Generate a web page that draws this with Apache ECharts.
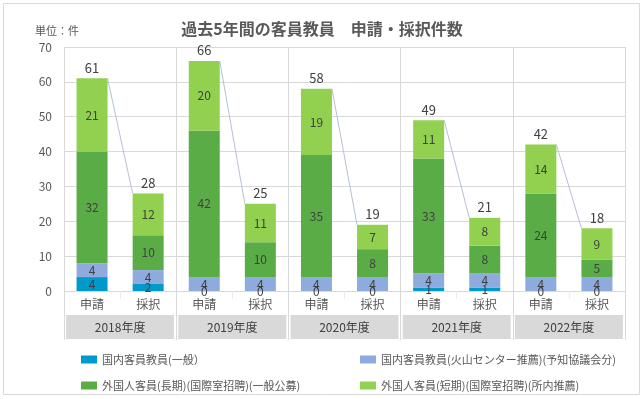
<!DOCTYPE html>
<html>
<head>
<meta charset="utf-8">
<script src="https://cdn.jsdelivr.net/npm/echarts@6/dist/echarts.min.js"></script>
<style>
  html, body { margin: 0; padding: 0; background: #fff; }
  #chart { width: 644px; height: 399px; }
</style>
</head>
<body>
<div id="chart"></div>
<script>
var years = ['2018年度', '2019年度', '2020年度', '2021年度', '2022年度'];
var kinds = ['申請', '採択', '申請', '採択', '申請', '採択', '申請', '採択', '申請', '採択'];
var seriesNames = [
    '国内客員教員(一般）',
    '国内客員教員(火山センター推薦)(予知協議会分)',
    '外国人客員(長期)(国際室招聘)(一般公募)',
    '外国人客員(短期)(国際室招聘)(所内推薦)'
];
var domestic = [4, 2, 0, 0, 0, 0, 1, 1, 0, 0];
var volcano = [4, 4, 4, 4, 4, 4, 4, 4, 4, 4];
var longStay = [32, 10, 42, 10, 35, 8, 33, 8, 24, 5];
var shortStay = [21, 12, 20, 11, 19, 7, 11, 8, 14, 9];
var yTicks = [0, 10, 20, 30, 40, 50, 60, 70];

var colors = ['#0099cc', '#8faadc', '#5aac46', '#92d050'];
var font = '"Noto Sans CJK JP", "Noto Sans", sans-serif';

var totals = domestic.map(function (v, i) {
    return v + volcano[i] + longStay[i] + shortStay[i];
});
// [index, total, total of the next bar] -> series lines between 申請 and 採択
var totalData = totals.map(function (t, i) {
    return [i, t, i % 2 === 0 ? totals[i + 1] : -1];
});

var chart = echarts.init(document.getElementById('chart'));

function barSeries(name, values, color) {
    return {
        name: name,
        type: 'bar',
        stack: 'all',
        barWidth: 31,
        data: values,
        itemStyle: { color: color },
        label: {
            show: true,
            position: 'inside',
            color: '#404040',
            fontSize: 12,
            fontFamily: font
        }
    };
}

function legendAt(name, left, top) {
    return {
        data: [name],
        left: left,
        top: top,
        itemWidth: 16,
        itemHeight: 8,
        icon: 'rect',
        textStyle: { color: '#595959', fontSize: 11, fontFamily: font },
        selectedMode: false
    };
}

var option = {
    animation: false,
    textStyle: { fontFamily: font },
    title: {
        text: '過去5年間の客員教員　申請・採択件数',
        left: 'center',
        top: 16,
        textStyle: { color: '#595959', fontSize: 16, fontWeight: 'bold', fontFamily: font }
    },
    graphic: [
        {
            type: 'rect',
            shape: { x: 3.5, y: 3.5, width: 636, height: 391 },
            style: { fill: 'none', stroke: '#d9d9d9', lineWidth: 1 }
        },
        {
            type: 'text',
            left: 35,
            top: 25,
            style: { text: '単位：件', fill: '#595959', fontSize: 11, fontFamily: font }
        }
    ],
    legend: [
        legendAt(seriesNames[0], 76, 349),
        legendAt(seriesNames[1], 355, 349),
        legendAt(seriesNames[2], 76, 375),
        legendAt(seriesNames[3], 355, 375)
    ],
    grid: { left: 64, right: 19, top: 47, bottom: 108 },
    xAxis: [
        {
            type: 'category',
            data: kinds,
            position: 'bottom',
            axisLine: { lineStyle: { color: '#d9d9d9' } },
            axisTick: { show: true, length: 8, lineStyle: { color: '#ececec' } },
            axisLabel: { color: '#595959', fontSize: 12, margin: 7, fontFamily: font },
            splitLine: { show: false }
        },
        {
            type: 'category',
            data: years,
            position: 'bottom',
            axisLine: { show: false },
            axisTick: { show: true, length: 49, lineStyle: { color: '#d9d9d9' } },
            axisLabel: {
                color: '#404040',
                fontSize: 12,
                fontFamily: font,
                margin: 24,
                width: 108,
                height: 24,
                lineHeight: 24,
                align: 'center',
                backgroundColor: '#d9d9d9'
            },
            splitLine: { show: true, lineStyle: { color: '#d9d9d9' } }
        }
    ],
    yAxis: {
        type: 'value',
        min: yTicks[0],
        max: yTicks[yTicks.length - 1],
        interval: 10,
        axisLine: { show: false },
        axisTick: { show: false },
        axisLabel: { color: '#595959', fontSize: 12, margin: 12, fontFamily: font },
        splitLine: { lineStyle: { color: '#d9d9d9' } }
    },
    series: [
        barSeries(seriesNames[0], domestic, colors[0]),
        barSeries(seriesNames[1], volcano, colors[1]),
        barSeries(seriesNames[2], longStay, colors[2]),
        barSeries(seriesNames[3], shortStay, colors[3]),
        {
            name: 'total',
            type: 'custom',
            data: totalData,
            encode: { x: 0, y: 1 },
            z: 5,
            renderItem: function (params, api) {
                var idx = api.value(0);
                var total = api.value(1);
                var next = api.value(2);
                var p = api.coord([idx, total]);
                var half = 31 / 2;
                var children = [{
                    type: 'text',
                    x: p[0],
                    y: p[1] - 4,
                    style: {
                        text: String(total),
                        fill: '#404040',
                        fontSize: 13,
                        fontFamily: font,
                        align: 'center',
                        verticalAlign: 'bottom'
                    }
                }];
                if (next >= 0) {
                    var q = api.coord([idx + 1, next]);
                    children.push({
                        type: 'line',
                        shape: { x1: p[0] + half, y1: p[1], x2: q[0] - half, y2: q[1] },
                        style: { stroke: '#b4c0d4', lineWidth: 1 }
                    });
                }
                return { type: 'group', children: children };
            }
        }
    ]
};

chart.setOption(option);
</script>
</body>
</html>
